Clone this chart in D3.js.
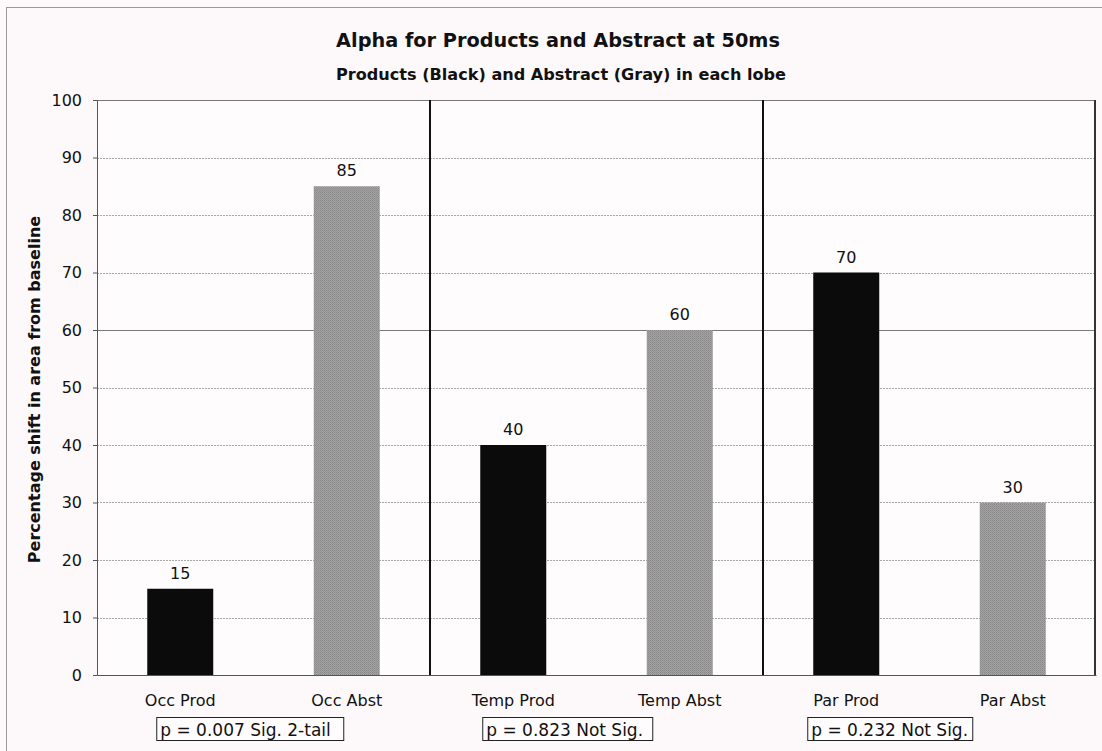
<!DOCTYPE html>
<html>
<head>
<meta charset="utf-8">
<script src="https://cdn.jsdelivr.net/npm/d3@7"></script>
<style>
  html, body { margin: 0; padding: 0; background: #fdf9fa; }
  svg { display: block; }
  text { font-family: "DejaVu Sans", Verdana, sans-serif; fill: #111; }
</style>
</head>
<body>
<svg id="chart" width="1102" height="751"></svg>
<script>
// Bar categories, in plotting order
const categories = ["Occ Prod", "Occ Abst", "Temp Prod", "Temp Abst", "Par Prod", "Par Abst"];
// Percentage shift in area from baseline
const values = [15, 85, 40, 60, 70, 30];
// Stimulus type per bar: Products drawn black, Abstract gray
const kinds = ["prod", "abst", "prod", "abst", "prod", "abst"];
// Lobe groups (two bars each) and their significance notes
const lobes = ["Occ", "Temp", "Par"];
const pNotes = ["p = 0.007 Sig. 2-tail", "p = 0.823 Not Sig.", "p = 0.232 Not Sig."];
const yTicks = [0, 10, 20, 30, 40, 50, 60, 70, 80, 90, 100];

const svg = d3.select("#chart");
const W = 1102, H = 751;
const plot = { left: 97, right: 1096, top: 100, bottom: 675 };
const FONT = '"DejaVu Sans", Verdana, sans-serif';

// Outer chart frame (left/top edges visible)
svg.append("rect").attr("x", 6.5).attr("y", 7.5).attr("width", W + 10).attr("height", H + 10)
  .attr("fill", "#fdf9fa").attr("stroke", "#9a9a9a").attr("stroke-width", 1);

// Stippled gray texture for the Abstract bars
const defs = svg.append("defs");
const pat = defs.append("pattern").attr("id", "stipple").attr("patternUnits", "userSpaceOnUse")
  .attr("width", 2).attr("height", 2);
pat.append("rect").attr("width", 2).attr("height", 2).attr("fill", "#a2a2a2");
pat.append("rect").attr("width", 1).attr("height", 1).attr("fill", "#8a8a8a");
pat.append("rect").attr("x", 1).attr("y", 1).attr("width", 1).attr("height", 1).attr("fill", "#939393");

const x = d3.scaleBand().domain(categories).range([plot.left, plot.right]).paddingInner(0).paddingOuter(0);
const y = d3.scaleLinear().domain([0, 100]).range([plot.bottom, plot.top]);

// Plot area background
svg.append("rect").attr("x", plot.left).attr("y", plot.top)
  .attr("width", plot.right - plot.left).attr("height", plot.bottom - plot.top)
  .attr("fill", "#fffcfd");

// Horizontal gridlines
svg.append("g").selectAll("line").data(yTicks.filter(t => t > 0 && t < 100)).join("line")
  .attr("x1", plot.left).attr("x2", plot.right)
  .attr("y1", d => Math.round(y(d)) + 0.5).attr("y2", d => Math.round(y(d)) + 0.5)
  .attr("stroke", d => d === 60 ? "#7a7a7a" : "#a8a8a8")
  .attr("stroke-width", 1)
  .attr("stroke-dasharray", d => d === 60 ? null : "2,1");

// Bars
const barW = 66;
svg.append("g").selectAll("rect").data(categories).join("rect")
  .attr("x", (d) => x(d) + x.bandwidth() / 2 - barW / 2)
  .attr("y", (d, i) => y(values[i]))
  .attr("width", barW)
  .attr("height", (d, i) => y(0) - y(values[i]))
  .attr("fill", (d, i) => kinds[i] === "prod" ? "#0b0b0b" : "url(#stipple)");

// Value labels above bars
svg.append("g").selectAll("text").data(categories).join("text")
  .attr("x", d => x(d) + x.bandwidth() / 2)
  .attr("y", (d, i) => y(values[i]) - 10)
  .attr("text-anchor", "middle")
  .attr("font-size", 16)
  .text((d, i) => values[i]);

// Plot borders: top line and right edge
svg.append("line").attr("x1", plot.left).attr("x2", plot.right)
  .attr("y1", plot.top + 0.5).attr("y2", plot.top + 0.5).attr("stroke", "#777").attr("stroke-width", 1);
svg.append("line").attr("x1", plot.right - 1).attr("x2", plot.right - 1)
  .attr("y1", plot.top).attr("y2", plot.bottom).attr("stroke", "#333").attr("stroke-width", 2);

// Lobe dividers between each pair of bars
svg.append("g").selectAll("line").data(lobes.slice(1)).join("line")
  .attr("x1", (d, i) => x(categories[(i + 1) * 2]))
  .attr("x2", (d, i) => x(categories[(i + 1) * 2]))
  .attr("y1", plot.top).attr("y2", plot.bottom)
  .attr("stroke", "#111").attr("stroke-width", 2);

// Y axis
const yAxis = svg.append("g").attr("transform", `translate(${plot.left},0)`)
  .call(d3.axisLeft(y).tickValues(yTicks).tickSize(4).tickPadding(11));
yAxis.select(".domain").attr("stroke", "#555");
yAxis.selectAll(".tick line").attr("stroke", "#555");
yAxis.selectAll("text").attr("font-size", 16).attr("fill", "#111").attr("font-family", FONT);

// X axis line and category labels
const xAxis = svg.append("g").attr("transform", `translate(0,${plot.bottom})`)
  .call(d3.axisBottom(x).tickSize(0).tickPadding(19.5));
xAxis.select(".domain").attr("stroke", "#555");
xAxis.selectAll("text").attr("font-size", 16).attr("fill", "#111").attr("font-family", FONT);

// Significance boxes under each lobe
const noteOffset = [-24, -31, -39];
const noteWidth = [187, 170, 165];
const notes = svg.append("g").selectAll("g").data(pNotes).join("g")
  .attr("transform", (d, i) => `translate(${x(categories[i * 2]) + x.bandwidth() / 2 + noteOffset[i]},717)`);
notes.append("rect").attr("x", 0.5).attr("y", 0.5)
  .attr("width", (d, i) => noteWidth[i]).attr("height", 23)
  .attr("fill", "#fffcfd").attr("stroke", "#222").attr("stroke-width", 1);
notes.append("text").attr("x", 4).attr("y", 18.5).attr("font-size", 17).text(d => d);

// Titles
svg.append("text").attr("x", 558).attr("y", 47).attr("text-anchor", "middle")
  .attr("font-size", 19.3).attr("font-weight", "bold")
  .text("Alpha for Products and Abstract at 50ms");
svg.append("text").attr("x", 561).attr("y", 80).attr("text-anchor", "middle")
  .attr("font-size", 16.1).attr("font-weight", "bold")
  .text("Products (Black) and Abstract (Gray) in each lobe");

// Y axis title
svg.append("text")
  .attr("transform", `translate(40,${(plot.top + plot.bottom) / 2 + 2}) rotate(-90)`)
  .attr("text-anchor", "middle").attr("font-size", 16).attr("font-weight", "bold")
  .text("Percentage shift in area from baseline");
</script>
</body>
</html>
